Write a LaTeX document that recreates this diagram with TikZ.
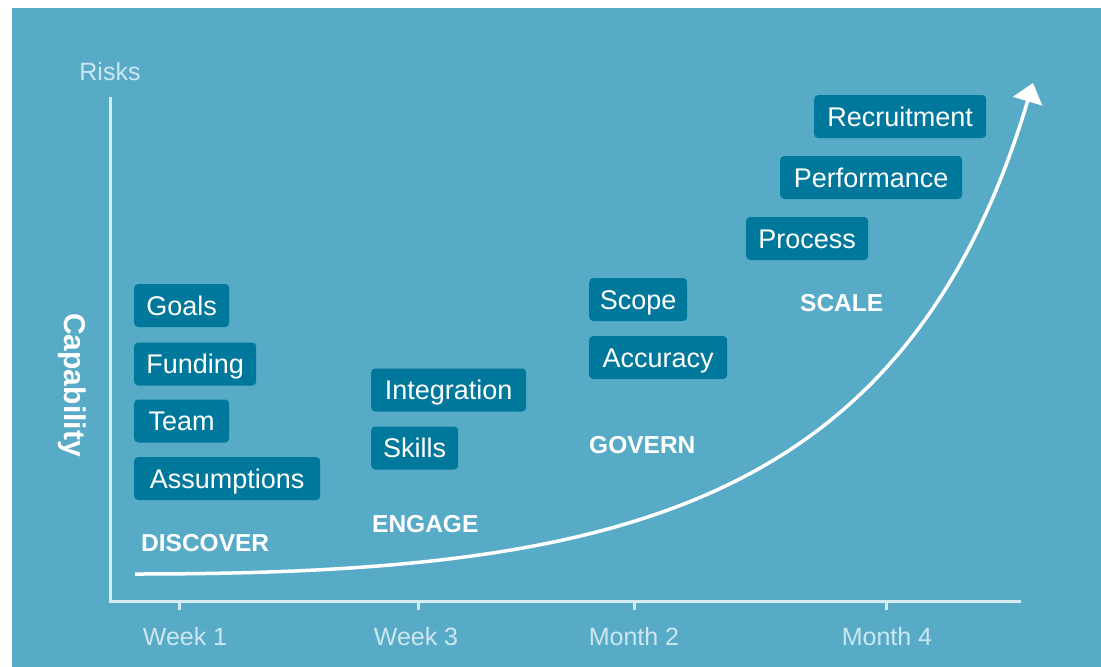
\documentclass[tikz,border=0pt]{standalone}
\usepackage{fontspec}
\setmainfont{Liberation Sans}
\usetikzlibrary{arrows.meta}
\definecolor{bgblue}{RGB}{88,171,199}
\definecolor{boxblue}{RGB}{0,120,156}
\definecolor{axisblue}{RGB}{214,236,243}
\definecolor{labelblue}{RGB}{205,231,240}
\begin{document}
\begin{tikzpicture}[x=1pt, y=-1pt,
		tag/.style={fill=boxblue, text=white, rounded corners=4pt, anchor=west, minimum height=43pt, inner sep=0pt, text height=19pt, text depth=0pt, font=\fontsize{27}{27}\selectfont},
		stage/.style={text=white, anchor=west, inner sep=0pt, font=\fontsize{24.5}{24.5}\selectfont\bfseries},
		axislabel/.style={text=labelblue, inner sep=0pt, font=\fontsize{25}{25}\selectfont},
		axis/.style={draw=axisblue, line width=3pt}]
		\useasboundingbox (0,0) rectangle (1101,667);
		\fill[bgblue] (12,8) rectangle (1101,667);
		
		% axes
		\coordinate (top) at (110,97);
		\coordinate (origin) at (110,601);
		\coordinate (right) at (1021,601);
		\draw[axis] (top) -- (origin) -- (right);
		\foreach \x/\lx/\t/\n in {179/185/Week 1/w1, 418/416/Week 3/w3, 634/634/Month 2/m2, 886/887/Month 4/m4} {
			\draw[axis] (\x,601) -- (\x,610);
			\node[axislabel] (\n) at (\lx,637) {\t};
		}
		\node[axislabel] (risks) at (110,72) {Risks};
		\node[text=white, rotate=-90, inner sep=0pt, font=\fontsize{30}{30}\selectfont\bfseries] (capability) at (72,385) {Capability};
		
		% growth curve
		\coordinate (start) at (135,574);
		\coordinate (tip) at (1033,83);
		\draw[white, line width=3.5pt, -{Triangle[length=19pt, width=30pt]}] (start) .. controls (610,574) and (905,512) .. (tip);
		
		% discover
		\node[tag, minimum width=95pt] (goals) at (134,305.5) {Goals};
		\node[tag, minimum width=122pt] (funding) at (134,364) {Funding};
		\node[tag, minimum width=95pt] (team) at (134,421) {Team};
		\node[tag, minimum width=186pt] (assumptions) at (134,478.5) {Assumptions};
		\node[stage] (discover) at (141,543) {DISCOVER};
		
		% engage
		\node[tag, minimum width=155pt] (integration) at (371,390) {Integration};
		\node[tag, minimum width=87pt] (skills) at (371,448) {Skills};
		\node[stage] (engage) at (372,524) {ENGAGE};
		
		% govern
		\node[tag, minimum width=98pt] (scope) at (589,299.5) {Scope};
		\node[tag, minimum width=138pt] (accuracy) at (589,357.5) {Accuracy};
		\node[stage] (govern) at (589,445) {GOVERN};
		
		% scale
		\node[tag, minimum width=122pt] (process) at (746,238.5) {Process};
		\node[tag, minimum width=182pt] (performance) at (780,177.5) {Performance};
		\node[tag, minimum width=172pt] (recruitment) at (814,116.5) {Recruitment};
		\node[stage] (scale) at (800,303) {SCALE};
\end{tikzpicture}
\end{document}
